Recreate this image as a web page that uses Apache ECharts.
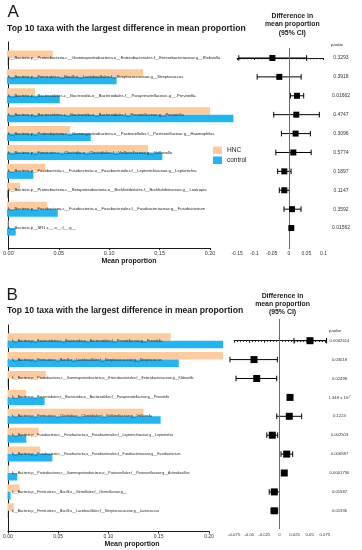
<!DOCTYPE html>
<html><head><meta charset="utf-8">
<style>html,body{margin:0;padding:0;background:#fff}#c{width:362px;height:550px}</style>
<script src="https://cdn.jsdelivr.net/npm/echarts@6/dist/echarts.min.js"></script>
</head><body><div id="c"></div>
<script>
// ---------- Panel A data ----------
var catsA = [
  "k__Bacteria.p__Proteobacteria.c__Gammaproteobacteria.o__Enterobacteriales.f__Enterobacteriaceae.g__Klebsiella",
  "k__Bacteria.p__Firmicutes.c__Bacilli.o__Lactobacillales.f__Streptococcaceae.g__Streptococcus",
  "k__Bacteria.p__Bacteroidetes.c__Bacteroidia.o__Bacteroidales.f__.Paraprevotellaceae..g__.Prevotella.",
  "k__Bacteria.p__Bacteroidetes.c__Bacteroidia.o__Bacteroidales.f__Prevotellaceae.g__Prevotella",
  "k__Bacteria.p__Proteobacteria.c__Gammaproteobacteria.o__Pasteurellales.f__Pasteurellaceae.g__Haemophilus",
  "k__Bacteria.p__Firmicutes.c__Clostridia.o__Clostridiales.f__Veillonellaceae.g__Veillonella",
  "k__Bacteria.p__Fusobacteria.c__Fusobacteriia.o__Fusobacteriales.f__Leptotrichiaceae.g__Leptotrichia",
  "k__Bacteria.p__Proteobacteria.c__Betaproteobacteria.o__Burkholderiales.f__Burkholderiaceae.g__Lautropia",
  "k__Bacteria.p__Fusobacteria.c__Fusobacteriia.o__Fusobacteriales.f__Fusobacteriaceae.g__Fusobacterium",
  "k__Bacteria.p__SR1.c__.o__.f__.g__"
];
var hncA  = [0.045, 0.134, 0.0276, 0.200, 0.062, 0.139, 0.038, 0.0128, 0.0397, 0.0015];
var ctrlA = [0.0004, 0.108, 0.052, 0.223, 0.0825, 0.153, 0.026, 0.001, 0.050, 0.0086];
var diffA = [-0.048, -0.028, 0.023, 0.021, 0.019, 0.0125, -0.0136, -0.0136, 0.0087, 0.0067];
var lowA  = [-0.145, -0.092, 0.004, -0.044, -0.022, -0.038, -0.0327, -0.028, -0.0145, 0.0060];
var highA = [0.051, 0.035, 0.0425, 0.0877, 0.0616, 0.064, 0.006, 0.001, 0.0347, 0.0074];
var pA = ["0.3293", "0.3918", "0.01662", "0.4747", "0.3096", "0.5774", "0.1897", "0.1147", "0.3592", "0.01562"];

// ---------- Panel B data ----------
var catsB = [
  "k__Bacteria;p__Bacteroidetes;c__Bacteroidia;o__Bacteroidales;f__Prevotellaceae;g__Prevotella",
  "k__Bacteria;p__Firmicutes;c__Bacilli;o__Lactobacillales;f__Streptococcaceae;g__Streptococcus",
  "k__Bacteria;p__Proteobacteria;c__Gammaproteobacteria;o__Enterobacteriales;f__Enterobacteriaceae;g__Klebsiella",
  "k__Bacteria;p__Bacteroidetes;c__Bacteroidia;o__Bacteroidales;f__Paraprevotellaceae;g__Prevotella",
  "k__Bacteria;p__Firmicutes;c__Clostridia;o__Clostridiales;f__Veillonellaceae;g__Veillonella",
  "k__Bacteria;p__Fusobacteria;c__Fusobacteriia;o__Fusobacteriales;f__Leptotrichiaceae;g__Leptotrichia",
  "k__Bacteria;p__Fusobacteria;c__Fusobacteriia;o__Fusobacteriales;f__Fusobacteriaceae;g__Fusobacterium",
  "k__Bacteria;p__Proteobacteria;c__Gammaproteobacteria;o__Pasteurellales;f__Pasteurellaceae;g__Actinobacillus",
  "k__Bacteria;p__Firmicutes;c__Bacilli;o__Gemellales;f__Gemellaceae;g__",
  "k__Bacteria;p__Firmicutes;c__Bacilli;o__Lactobacillales;f__Streptococcaceae;g__Lactococcus"
];
var hncB  = [0.162, 0.214, 0.038, 0.0186, 0.135, 0.031, 0.0325, 0.0015, 0.012, 0.0063];
var ctrlB = [0.214, 0.170, 0.0004, 0.0368, 0.152, 0.0186, 0.0445, 0.0097, 0.003, 0.0003];
var diffB = [0.0505, -0.0422, -0.0377, 0.0174, 0.0162, -0.0119, 0.0119, 0.0079, -0.0086, -0.0086];
var lowB  = [0.024, -0.082, -0.072, 0.014, -0.0046, -0.021, 0.0025, 0.0070, -0.017, -0.014];
var highB = [0.078, -0.0036, -0.0046, 0.021, 0.0367, -0.003, 0.0218, 0.0088, 0.0, -0.003];
var pB = ["0.0002614", "0.03018", "0.02498", "1.348 x 10^-7", "0.1224", "0.002503", "0.006587", "0.0001756", "0.01587", "0.01336"];

var barTicksMax = 0.2;

// ---------- styling ----------
var FONT = "'Liberation Sans', Arial, sans-serif";
var ORANGE = '#FDCB9E';
var BLUE = '#22B5F3';
var INK = '#1a1a1a';

var option = {
  animation: false,
  grid: [], xAxis: [], yAxis: [], series: [],
  legend: {
    data: ['HNC', 'control'], orient: 'vertical', left: 213, top: 146.5, padding: 0,
    itemGap: 2.5, itemWidth: 9, itemHeight: 7.5, icon: 'rect', selectedMode: false,
    textStyle: { fontSize: 6.5, color: INK, fontFamily: FONT }
  },
  graphic: []
};

function txt(x, y, s, size, bold, align) {
  option.graphic.push({
    type: 'text', x: x, y: y, silent: true,
    style: { text: s, font: (bold ? 'bold ' : '') + size + 'px ' + FONT, fill: INK,
             align: align || 'left', verticalAlign: 'middle',
             textAlign: align || 'left', textVerticalAlign: 'middle' }
  });
}

function errRender(capH) {
  return function (params, api) {
    var y = api.value(2);
    var p1 = api.coord([api.value(0), y]);
    var p2 = api.coord([api.value(1), y]);
    var st = { stroke: '#000', lineWidth: 1 };
    return { type: 'group', children: [
      { type: 'line', shape: { x1: p1[0], y1: p1[1], x2: p2[0], y2: p2[1] }, style: st },
      { type: 'line', shape: { x1: p1[0], y1: p1[1] - capH, x2: p1[0], y2: p1[1] + capH }, style: st },
      { type: 'line', shape: { x1: p2[0], y1: p2[1] - capH, x2: p2[0], y2: p2[1] + capH }, style: st }
    ]};
  };
}

function addPanel(cats, hnc, ctrl, diff, low, high, pv, L) {
  var gi = option.grid.length;
  // frame grid (axes of the bar chart)
  option.grid.push({ left: L.fl, top: L.ft, width: L.fw, height: L.fh });
  option.xAxis.push({ gridIndex: gi, type: 'value', min: 0, max: barTicksMax, interval: 0.05,
    axisLine: { show: true, lineStyle: { color: INK, width: 1 } },
    axisTick: { show: true, length: 2, lineStyle: { color: INK } },
    splitLine: { show: false },
    axisLabel: { fontSize: L.tf, color: '#333', margin: L.tm, fontFamily: FONT,
                 formatter: function (v) { return v.toFixed(2); } } });
  option.yAxis.push({ gridIndex: gi, type: 'value', min: 0, max: 1,
    axisLine: { show: true, lineStyle: { color: INK, width: 1 } },
    axisTick: { show: false }, axisLabel: { show: false }, splitLine: { show: false } });
  // bars grid
  option.grid.push({ left: L.fl, top: L.bt, width: L.fw, height: L.bh });
  option.xAxis.push({ gridIndex: gi + 1, type: 'value', min: 0, max: barTicksMax, show: false });
  option.yAxis.push({ gridIndex: gi + 1, type: 'category', inverse: true, data: cats, z: 10,
    axisLine: { show: false }, axisTick: { show: false }, splitLine: { show: false },
    axisLabel: { inside: true, interval: 0, margin: L.lm, fontSize: L.lf, color: '#222', fontFamily: FONT } });
  option.series.push({ name: 'HNC', type: 'bar', xAxisIndex: gi + 1, yAxisIndex: gi + 1, data: hnc,
    barWidth: L.bw, barGap: '0%', clip: false, silent: true, itemStyle: { color: ORANGE } });
  option.series.push({ name: 'control', type: 'bar', xAxisIndex: gi + 1, yAxisIndex: gi + 1, data: ctrl,
    barWidth: L.bw, barGap: '0%', clip: false, silent: true, itemStyle: { color: BLUE } });
  // forest grid
  option.grid.push({ left: L.xl, top: L.xt, width: L.xw, height: L.xh });
  option.xAxis.push({ gridIndex: gi + 2, type: 'value', min: L.xmin, max: L.xmax, interval: L.xint,
    axisLine: { show: true, lineStyle: { color: INK, width: 1 } },
    axisTick: { show: true, length: 2, lineStyle: { color: INK } },
    minorTick: { show: true, splitNumber: 5, length: 1.2, lineStyle: { color: INK } },
    splitLine: { show: false }, minorSplitLine: { show: false },
    axisLabel: { fontSize: L.ff, color: '#333', margin: L.fm, fontFamily: FONT, hideOverlap: false } });
  option.yAxis.push({ gridIndex: gi + 2, type: 'value', inverse: true, min: L.ymin, max: L.ymax, show: false });
  option.series.push({ type: 'custom', xAxisIndex: gi + 2, yAxisIndex: gi + 2, silent: true, z: 3,
    renderItem: errRender(L.cap), encode: { x: [0, 1], y: 2 },
    data: low.map(function (l, i) { return [l, high[i], i]; }) });
  option.series.push({ type: 'scatter', xAxisIndex: gi + 2, yAxisIndex: gi + 2, silent: true, z: 5,
    symbol: 'rect', symbolSize: L.sq, itemStyle: { color: '#000', opacity: 1 },
    data: diff.map(function (d, i) { return [d, i]; }),
    markLine: { silent: true, symbol: ['none', 'none'], label: { show: false },
      lineStyle: { color: '#6a6a6a', width: 1, type: 'solid' }, data: [{ xAxis: 0 }] } });
  // p-value column
  option.grid.push({ left: L.pl, top: L.bt, width: 1, height: L.bh });
  option.xAxis.push({ gridIndex: gi + 3, type: 'value', min: 0, max: 1, show: false });
  option.yAxis.push({ gridIndex: gi + 3, type: 'category', inverse: true, data: pv,
    axisLine: { show: false }, axisTick: { show: false }, splitLine: { show: false },
    axisLabel: { interval: 0, margin: 0, align: 'center', fontSize: L.pf, color: '#333', fontFamily: FONT,
      formatter: function (v) { return v.replace(/\^(-?\d+)/, '{sup|$1}'); },
      rich: { sup: { fontSize: L.pf * 0.65, verticalAlign: 'top', color: '#333', fontFamily: FONT } } } });
}

addPanel(catsA, hncA, ctrlA, diffA, lowA, highA, pA, {
  fl: 7, ft: 42, fw: 203, fh: 206, tf: 5.5, tm: 2.5,
  bt: 48.5, bh: 189, bw: 7.5, lm: 1, lf: 4.1,
  xl: 237.1, xt: 48, xw: 86.5, xh: 201, xmin: -0.15, xmax: 0.1, xint: 0.05,
  ymin: -0.529, ymax: 10.108, ff: 5, fm: 2, sq: 6, cap: 2.8,
  pl: 341, pf: 5
});
addPanel(catsB, hncB, ctrlB, diffB, lowB, highB, pB, {
  fl: 7.5, ft: 325, fw: 201.5, fh: 206.5, tf: 5, tm: 2.5,
  bt: 331.25, bh: 189, bw: 7.5, lm: 4.5, lf: 3.5,
  xl: 234.2, xt: 319, xw: 90.6, xh: 210, xmin: -0.075, xmax: 0.075, xint: 0.025,
  ymin: -1.148, ymax: 9.963, ff: 4.3, fm: 4, sq: 7, cap: 2.8,
  pl: 339.5, pf: 4.2
});

// texts
txt(7.5, 12, 'A', 17, false);
txt(7, 29, 'Top 10 taxa with the largest difference in mean proportion', 8.7, true);
txt(292.3, 16, 'Difference in', 6.9, true, 'center');
txt(292.3, 24.3, 'mean proportion', 6.9, true, 'center');
txt(292.3, 32.7, '(95% CI)', 6.9, true, 'center');
txt(337, 45, 'p-value', 3.8, false, 'center');
txt(129, 261, 'Mean proportion', 7, true, 'center');

txt(6.5, 295.5, 'B', 17, false);
txt(7, 311, 'Top 10 taxa with the largest difference in mean proportion', 8.6, true);
txt(282.5, 295.7, 'Difference in', 6.9, true, 'center');
txt(282.5, 304, 'mean proportion', 6.9, true, 'center');
txt(282.5, 311.7, '(95% CI)', 6.9, true, 'center');
txt(335, 331, 'p-value', 3.8, false, 'center');
txt(132, 544, 'Mean proportion', 7, true, 'center');

var chart = echarts.init(document.getElementById('c'), null, { renderer: 'canvas' });
chart.setOption(option);
</script>
</body></html>
